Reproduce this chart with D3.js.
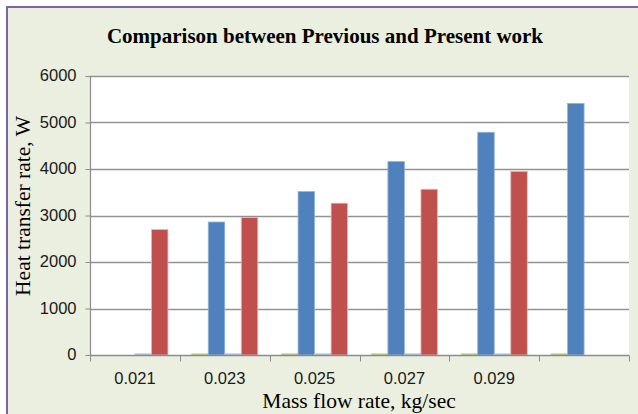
<!DOCTYPE html>
<html><head><meta charset="utf-8">
<script src="https://cdn.jsdelivr.net/npm/d3@7"></script>
<style>html,body{margin:0;padding:0;background:#fff;}svg{display:block;}</style>
</head><body>
<svg id="c" width="638" height="414"></svg>
<script>
const categories = ["0.021","0.023","0.025","0.027","0.029",""];
const seriesNames = ["prevFlow","previous","presFlow","present"];
const prevFlow = [null, 25, 25, 25, 25, 25];
const previous = [null, 2860, 3515, 4160, 4790, 5410];
const presFlow = [25, 25, 25, 25, 25, null];
const present = [2700, 2955, 3265, 3565, 3950, null];
const yTicks = [0,1000,2000,3000,4000,5000,6000];
const colors = {prevFlow:"#9BBB59", previous:"#4F81BD", presFlow:"#95B3D7", present:"#C0504D"};
const strokes = {prevFlow:"#C3D69B", previous:"#95B3D7", presFlow:"#B9CDE5", present:"#E6B9B8"};
const dataBySeries = {prevFlow, previous, presFlow, present};

const svg = d3.select("#c");
svg.append("rect").attr("x",7).attr("y",7).attr("width",640).attr("height",420)
  .attr("fill","#EBEFDF").attr("stroke","#8064A2").attr("stroke-width",2);

const L=90,R=629,T=76,B=355;
svg.append("rect").attr("x",L).attr("y",T).attr("width",R-L).attr("height",B-T).attr("fill","#fff");

const y = d3.scaleLinear().domain([0,6000]).range([B,T]);
const x0 = d3.scaleBand().domain(categories.map((c,i)=>i)).range([L,R]).padding(0);
const x1 = d3.scaleBand().domain(seriesNames).range([0,x0.bandwidth()]).paddingInner(0).paddingOuter(0.72);

svg.append("g").selectAll("line").data(yTicks.filter(t=>t>0)).join("line")
  .attr("x1",L).attr("x2",R).attr("y1",d=>Math.round(y(d))+0.5).attr("y2",d=>Math.round(y(d))+0.5)
  .attr("stroke","#939393").attr("stroke-width",1.5);

seriesNames.forEach(s=>{
  svg.append("g").selectAll("rect").data(dataBySeries[s].map((v,i)=>({v,i})).filter(d=>d.v!=null)).join("rect")
    .attr("x",d=>x0(d.i)+x1(s))
    .attr("y",d=>y(d.v))
    .attr("width",x1.bandwidth())
    .attr("height",d=>B-y(d.v))
    .attr("fill",colors[s])
    .attr("stroke",strokes[s]).attr("stroke-width",0.8);
});

const yAxis = d3.axisLeft(y).tickValues(yTicks).tickSize(5).tickPadding(9).tickFormat(d3.format("d"));
const gy = svg.append("g").attr("transform",`translate(${L+0.5},0)`).call(yAxis);
gy.select(".domain").attr("stroke","#8C8C8C").attr("stroke-width",1.2).attr("d",`M0,${T}V${B}`);
gy.selectAll(".tick line").attr("stroke","#8C8C8C");
gy.selectAll(".tick text").attr("font-family","Liberation Sans, Arial, sans-serif").attr("font-size",16.5).attr("fill","#1a1a1a").attr("dy","0.3em");

const xTickScale = d3.scaleLinear().domain([0,categories.length]).range([L,R]);
const gx = svg.append("g").attr("transform",`translate(0,${B+0.5})`);
gx.append("line").attr("x1",L).attr("x2",R).attr("stroke","#8C8C8C").attr("stroke-width",1.5);
gx.selectAll("line.t").data(d3.range(categories.length+1)).join("line").attr("class","t")
  .attr("x1",d=>Math.round(xTickScale(d))+0.5).attr("x2",d=>Math.round(xTickScale(d))+0.5)
  .attr("y1",0).attr("y2",6).attr("stroke","#8C8C8C");
gx.selectAll("text").data(categories).join("text")
  .attr("x",(d,i)=>x0(i)+x0.bandwidth()/2).attr("y",28)
  .attr("text-anchor","middle").attr("font-family","Liberation Sans, Arial, sans-serif").attr("font-size",16.5).attr("fill","#1a1a1a")
  .text(d=>d);

svg.append("text").attr("x",325).attr("y",43).attr("text-anchor","middle")
  .attr("font-family","Liberation Serif, Times New Roman, serif").attr("font-weight","bold").attr("font-size",21)
  .text("Comparison between Previous and Present work");
svg.append("text").attr("x",359).attr("y",408).attr("text-anchor","middle")
  .attr("font-family","Liberation Serif, Times New Roman, serif").attr("font-size",21.5)
  .text("Mass flow rate, kg/sec");
svg.append("text").attr("transform","translate(30,206) rotate(-90)").attr("text-anchor","middle")
  .attr("font-family","Liberation Serif, Times New Roman, serif").attr("font-size",21.5)
  .text("Heat transfer rate, W");
</script>
</body></html>
